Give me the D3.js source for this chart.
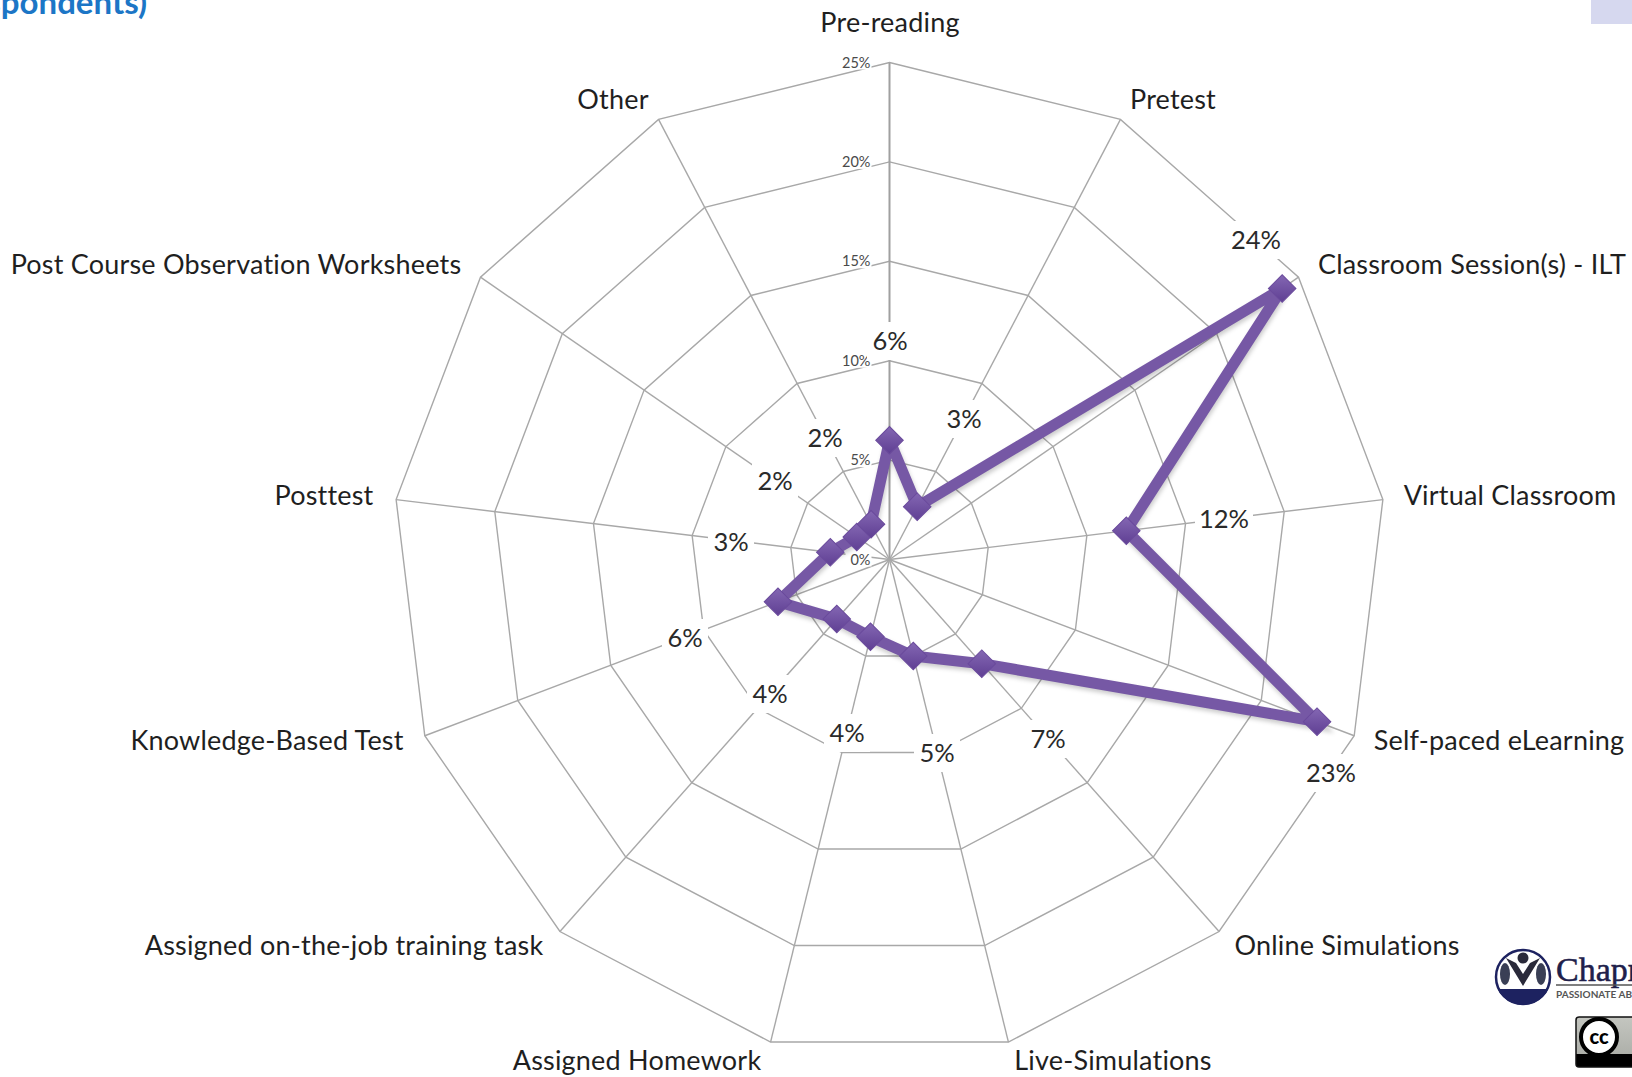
<!DOCTYPE html>
<html>
<head>
<meta charset="utf-8">
<script src="https://cdn.jsdelivr.net/npm/d3@7/dist/d3.min.js"></script>
<style>
html,body{margin:0;padding:0;background:#fff;overflow:hidden}
svg{display:block}
text{font-family:Lato,"Open Sans",sans-serif;font-variant-ligatures:none}
</style>
</head>
<body>
<svg id="chart" width="1632" height="1077"></svg>
<script>
// Delivery methods and their share of respondents (percent)
const categories = ["Pre-reading","Pretest","Classroom Session(s) - ILT","Virtual Classroom","Self-paced eLearning","Online Simulations","Live-Simulations","Assigned Homework","Assigned on-the-job training task","Knowledge-Based Test","Posttest","Post Course Observation Worksheets","Other"];
const shares = [6,3,24,12,23,7,5,4,4,6,3,2,2];
const ringTicks = [0,5,10,15,20,25];

// Label placement, one entry per category
const categoryLabelPos = [[890,23],[1173,100],[1472,265],[1510,496],[1499,741],[1347,946],[1113,1061],[637,1061],[344,946],[267,741],[324,496],[236,265],[613,100]];
const shareLabelPos = [[890,341],[964,419],[1256,240],[1224,519],[1331,773],[1048,739],[937,753],[847,733],[770,694],[685,638],[731,542],[775,481],[825,438]];

const cx = 889.5, cy = 559.5;
const svg = d3.select("#chart");
const r = d3.scaleLinear().domain([0,25]).range([0,497]);
const angle = d3.scalePoint().domain(d3.range(categories.length + 1)).range([0, 2*Math.PI]);
const plot = svg.append("g").attr("transform",`translate(${cx},${cy})`);

const defs = svg.append("defs");
const grad = defs.append("linearGradient").attr("id","marker").attr("x1",0).attr("y1",0).attr("x2",1).attr("y2",1);
grad.append("stop").attr("offset","0%").attr("stop-color","#8467b3");
grad.append("stop").attr("offset","100%").attr("stop-color","#5f3f93");
defs.append("filter").attr("id","soft").append("feGaussianBlur").attr("stdDeviation",2);
defs.append("clipPath").attr("id","logoDisc").append("circle").attr("cx",1523).attr("cy",977).attr("r",28);

// Polygon rings
const ringLine = d3.lineRadial().angle((d,i)=>angle(i)).radius(d=>r(d)).curve(d3.curveLinearClosed);
plot.selectAll(".ring").data(ringTicks.slice(1)).join("path")
  .attr("class","ring").attr("fill","none").attr("stroke","#a8a8a8").attr("stroke-width",1.4)
  .attr("d",t=>ringLine(categories.map(()=>t)));

// Spokes
plot.selectAll(".spoke").data(categories).join("line")
  .attr("class","spoke").attr("stroke",(d,i)=>i===0?"#a0a0a0":"#a8a8a8").attr("stroke-width",(d,i)=>i===0?2:1.4)
  .attr("x2",(d,i)=>r(25)*Math.sin(angle(i)))
  .attr("y2",(d,i)=>-r(25)*Math.cos(angle(i)));

// Radial scale labels sit on white plates that interrupt the grid
const ticks = plot.selectAll(".tick").data(ringTicks).join("g").attr("class","tick")
  .attr("transform",d=>`translate(-19,${-r(d)})`);
ticks.append("rect").attr("x",-25).attr("y",-8).attr("width",26).attr("height",15).attr("fill","#fff");
ticks.append("text").attr("text-anchor","end").attr("dy","0.35em").attr("font-size",14.5).attr("fill","#4a4a4a")
  .text(d=>d+"%");

// White plates behind value labels
svg.selectAll(".plate").data(shareLabelPos).join("rect").attr("class","plate")
  .attr("x",(d,i)=>d[0]-(shares[i]>=10?29:23)).attr("y",d=>d[1]-19)
  .attr("width",(d,i)=>shares[i]>=10?58:46).attr("height",38).attr("fill","#fff");

// Series outline with a faint drop shadow, then diamonds
const seriesLine = d3.lineRadial().angle((d,i)=>angle(i)).radius(d=>r(d)).curve(d3.curveLinearClosed);
plot.append("path").attr("d",seriesLine(shares)).attr("fill","none").attr("stroke","#000").attr("stroke-opacity",.2)
  .attr("stroke-width",11).attr("transform","translate(1,3)").attr("filter","url(#soft)");
plot.append("path").attr("d",seriesLine(shares)).attr("fill","none").attr("stroke","#7658a5")
  .attr("stroke-width",11).attr("stroke-linejoin","round");
const diamond = d3.symbol().type(d3.symbolSquare).size(380);
plot.selectAll(".pt").data(shares).join("path").attr("class","pt")
  .attr("d",diamond())
  .attr("fill","url(#marker)").attr("stroke","#6a4a9c").attr("stroke-width",1)
  .attr("transform",(d,i)=>`translate(${r(d)*Math.sin(angle(i))},${-r(d)*Math.cos(angle(i))}) rotate(45)`);

// Value labels
svg.selectAll(".share").data(shares).join("text").attr("class","share")
  .attr("x",(d,i)=>shareLabelPos[i][0]).attr("y",(d,i)=>shareLabelPos[i][1])
  .attr("text-anchor","middle").attr("dy","0.35em").attr("font-size",25.5).attr("fill","#2a2a2a")
  .text(d=>d+"%");

// Category labels
svg.selectAll(".cat").data(categories).join("text").attr("class","cat")
  .attr("x",(d,i)=>categoryLabelPos[i][0]).attr("y",(d,i)=>categoryLabelPos[i][1])
  .attr("text-anchor","middle").attr("dy","0.35em").attr("font-size",27).attr("letter-spacing",0.2).attr("fill","#1f1f1f")
  .text(d=>d);

// Slide furniture: cropped heading and corner block
svg.append("text").attr("x",147).attr("y",14).attr("text-anchor","end")
  .attr("font-size",33).attr("font-weight",700).attr("fill","#1c76c6").text("Respondents)");
svg.append("rect").attr("x",1591).attr("y",0).attr("width",41).attr("height",24).attr("fill","#d6d8ef");

// Organisation mark
const logo = svg.append("g");
logo.append("circle").attr("cx",1523).attr("cy",977).attr("r",27).attr("fill","#fff").attr("stroke","#1d2260").attr("stroke-width",2.5);
logo.append("rect").attr("x",1490).attr("y",989).attr("width",66).attr("height",20).attr("fill","#1d2260").attr("clip-path","url(#logoDisc)");
logo.append("path").attr("d","M1506 958 L1523 986 L1540 958 L1530 963 L1523 974 L1516 963 Z").attr("fill","#2a2a3a");
logo.append("circle").attr("cx",1523).attr("cy",958).attr("r",5.5).attr("fill","#2a2a3a");
logo.append("ellipse").attr("cx",1505).attr("cy",974).attr("rx",5).attr("ry",11).attr("fill","#3a3f55");
logo.append("ellipse").attr("cx",1541).attr("cy",974).attr("rx",5).attr("ry",11).attr("fill","#3a3f55");
logo.append("text").attr("x",1556).attr("y",981).attr("font-size",34).attr("fill","#20204a").attr("stroke","#20204a").attr("stroke-width",0.5)
  .style("font-family","'Liberation Serif',serif").text("Chapman");
logo.append("line").attr("x1",1556).attr("x2",1632).attr("y1",985).attr("y2",985).attr("stroke","#555").attr("stroke-width",1.5);
logo.append("text").attr("x",1556).attr("y",998).attr("font-size",10).attr("font-weight",700).attr("fill","#555").text("PASSIONATE ABOUT");

// Licence badge
const badge = svg.append("g");
const badgeFill = defs.append("linearGradient").attr("id","badge").attr("x1",0).attr("y1",0).attr("x2",0).attr("y2",1);
badgeFill.append("stop").attr("offset","0%").attr("stop-color","#c4c6c0");
badgeFill.append("stop").attr("offset","75%").attr("stop-color","#aeb0aa");
badgeFill.append("stop").attr("offset","75%").attr("stop-color","#000");
badge.append("rect").attr("x",1576).attr("y",1017).attr("width",70).attr("height",50).attr("rx",3).attr("fill","url(#badge)").attr("stroke","#111").attr("stroke-width",1.5);
badge.append("circle").attr("cx",1599).attr("cy",1037).attr("r",18).attr("fill","#fff").attr("stroke","#000").attr("stroke-width",4);
badge.append("text").attr("x",1599).attr("y",1044).attr("text-anchor","middle").attr("font-size",20).attr("font-weight",900).attr("fill","#000").text("cc");
</script>
</body>
</html>
